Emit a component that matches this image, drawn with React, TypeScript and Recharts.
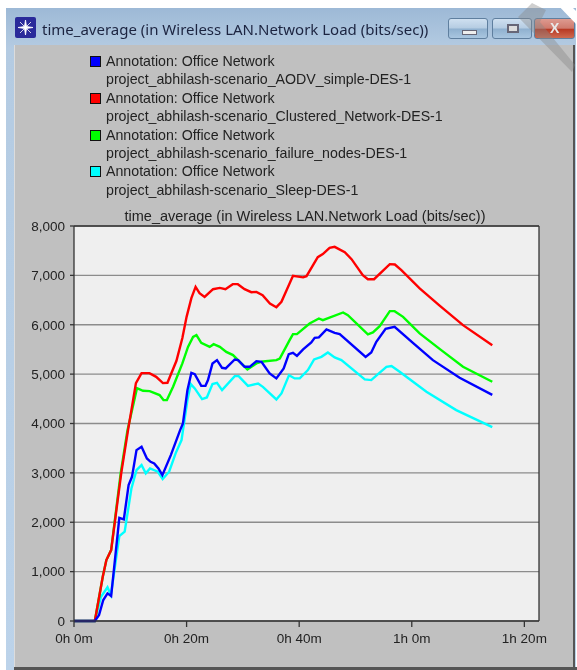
import React from "react";
import { LineChart, Line, XAxis, YAxis, CartesianGrid, ReferenceLine, Legend } from "recharts";

const chartTitle = "time_average (in Wireless LAN.Network Load (bits/sec))";
const legendHeading = "Annotation: Office Network";

const minuteTicks = [0, 20, 40, 60, 80];
const minuteLabels = ["0h 0m", "0h 20m", "0h 40m", "1h 0m", "1h 20m"];
const loadTicks = [0, 1000, 2000, 3000, 4000, 5000, 6000, 7000, 8000];
const xMax = 82.6;
const yMax = 8000;

const startMinutes = [0, 3.7];
const startLoad = [0, 0];

const aodvMinutes = [...startMinutes, 4.45, 5.2, 5.95, 6.6, 8.05, 8.85, 9.7, 10.3, 11.1, 12, 12.95, 13.6, 14.25, 15, 15.7, 17.2, 18.85, 19.35, 20.15, 20.85, 21.45, 22.6, 23.35, 23.8, 24.6, 25.4, 26.3, 26.95, 28.55, 29.15, 30.3, 31.2, 32.4, 33.3, 34.75, 35.95, 37.25, 38.15, 38.9, 39.6, 40.7, 42.15, 42.75, 43.5, 44.85, 46.3, 47.2, 51.8, 52.8, 53.7, 55.35, 56.95, 60.2, 63.75, 68.5, 74.3];
const aodvLoad = [...startLoad, 120, 425, 560, 506, 2090, 2058, 2753, 2920, 3461, 3528, 3293, 3225, 3192, 3090, 2955, 3360, 3866, 4002, 4676, 5026, 5000, 4763, 4763, 4879, 5217, 5283, 5128, 5115, 5297, 5283, 5148, 5148, 5263, 5250, 5014, 4913, 5115, 5405, 5431, 5370, 5500, 5642, 5735, 5743, 5905, 5836, 5810, 5350, 5439, 5654, 5917, 5957, 5634, 5283, 4925, 4580];

const clusteredMinutes = [...startMinutes, 5.1, 5.75, 6.6, 8.4, 9.6, 11, 12, 13.4, 14.6, 15.8, 16.6, 18.2, 19.25, 20, 20.85, 21.6, 22.3, 23.2, 24.7, 25.9, 26.9, 28.2, 29.1, 30.3, 31.5, 32.4, 33.5, 34.8, 35.95, 36.85, 38.9, 40.7, 41.3, 43.3, 44.2, 45.4, 46.3, 48.1, 49.3, 51.3, 52.2, 53.3, 56.1, 57, 58.15, 61.4, 65, 69.1, 74.3];
const clusteredLoad = [...startLoad, 890, 1235, 1437, 3000, 3866, 4818, 5020, 5020, 4945, 4818, 4824, 5270, 5730, 6160, 6540, 6767, 6640, 6565, 6720, 6747, 6720, 6822, 6822, 6720, 6660, 6666, 6600, 6430, 6356, 6464, 6990, 6960, 6983, 7368, 7430, 7557, 7578, 7470, 7328, 7004, 6923, 6923, 7227, 7220, 7105, 6735, 6383, 5992, 5587];

const failureMinutes = [...startMinutes, 5.1, 5.75, 6.6, 8.3, 9.5, 11.2, 12.25, 13.45, 15.2, 15.9, 16.5, 17.6, 19.25, 20.25, 21.15, 21.75, 22.6, 24.1, 24.8, 25.9, 27.05, 28.25, 29.45, 30.8, 32.4, 33.55, 35.95, 36.55, 38.3, 38.9, 39.6, 41.85, 43.5, 44.2, 47.8, 48.65, 52.2, 53.1, 54.3, 56.1, 56.95, 58.45, 61.4, 65, 69.1, 74.3];
const failureLoad = [...startLoad, 890, 1235, 1437, 3000, 3866, 4717, 4662, 4656, 4575, 4474, 4474, 4743, 5217, 5552, 5755, 5789, 5634, 5552, 5607, 5552, 5450, 5385, 5250, 5095, 5217, 5257, 5283, 5317, 5688, 5810, 5810, 6026, 6127, 6093, 6249, 6194, 5804, 5844, 5972, 6275, 6275, 6160, 5824, 5506, 5148, 4845];

const sleepMinutes = [...startMinutes, 4.8, 5.95, 6.55, 8.05, 9, 10.2, 11.1, 12, 12.75, 13.5, 14.9, 15.75, 16.9, 18.05, 19.1, 20.15, 20.75, 21.45, 22.75, 23.6, 24.6, 25.4, 26.3, 28.55, 29.25, 30.9, 32.7, 33.55, 35.95, 36.85, 38.2, 39.2, 40.1, 41.55, 42.65, 43.95, 45.1, 46.3, 47.5, 51.65, 52.8, 54, 55.5, 56.4, 57.85, 62.6, 67.9, 74.3];
const sleepLoad = [...startLoad, 492, 682, 526, 1720, 1808, 2686, 3057, 3158, 2990, 3090, 3023, 2875, 3023, 3395, 3664, 4474, 4798, 4710, 4494, 4528, 4798, 4824, 4676, 4960, 4960, 4763, 4811, 4743, 4488, 4609, 4980, 4913, 4913, 5081, 5297, 5350, 5439, 5338, 5283, 4893, 4879, 5000, 5148, 5162, 5047, 4642, 4271, 3927];

const toRows = (minutes: number[], load: number[]) => minutes.map((minute, i) => ({ minute, load: load[i] }));

const legendNames = [
  "project_abhilash-scenario_AODV_simple-DES-1",
  "project_abhilash-scenario_Clustered_Network-DES-1",
  "project_abhilash-scenario_failure_nodes-DES-1",
  "project_abhilash-scenario_Sleep-DES-1",
];
const legendColors = ["#0000ff", "#ff0000", "#00ff00", "#00ffff"];

const FONT = "'Liberation Sans', Arial, sans-serif";

function ChartLegend() {
  return (
    <div style={{ position: "absolute", left: 90, top: 52, fontFamily: FONT, fontSize: 14.2, color: "#222" }}>
      {legendNames.map((name, i) => (
        <div key={name}>
          <div style={{ height: 18.4, lineHeight: "18.4px", whiteSpace: "nowrap" }}>
            <span style={{ position: "absolute", left: 0, marginTop: 4, width: 9, height: 9, background: legendColors[i], border: "1px solid #111" }} />
            <span style={{ marginLeft: 16 }}>{legendHeading}</span>
          </div>
          <div style={{ height: 18.4, lineHeight: "18.4px", marginLeft: 16, whiteSpace: "nowrap" }}>{name}</div>
        </div>
      ))}
    </div>
  );
}

function WindowChrome() {
  const btn = (left: number, bg: string, w = 40): React.CSSProperties => ({
    position: "absolute", left, top: 18, width: w, height: 21, borderRadius: 3,
    border: "1px solid #5f7f9f", background: bg, boxSizing: "border-box",
  });
  const blueBtn = "linear-gradient(#cfe0f0 0%, #b5cce2 48%, #8fb0cf 52%, #a9c6e0 100%)";
  return (
    <>
      <div style={{ position: "absolute", left: 6, top: 8, width: 570, height: 662, background: "linear-gradient(#9db9d6 0px, #b4cbe2 40px, #bcd3ea 100%)" }} />
      <div style={{ position: "absolute", left: 14, top: 45, width: 561, height: 623, background: "#c0c0c0", borderLeft: "1px solid #dcdcdc", borderRight: "2px solid #555", boxSizing: "border-box" }} />
      <div style={{ position: "absolute", left: 14, top: 667, width: 563, height: 3, background: "#555" }} />
      <svg style={{ position: "absolute", left: 15, top: 17 }} width={21} height={21}>
        <rect width={21} height={21} rx={2} fill="#2a2a9a" />
        <path d="M10.5 3 L11.5 9.5 L18 10.5 L11.5 11.5 L10.5 18 L9.5 11.5 L3 10.5 L9.5 9.5 Z M5 5 L16 16 M16 5 L5 16" fill="#fff" stroke="#fff" strokeWidth={0.8} />
      </svg>
      <div style={{ position: "absolute", left: 42, top: 19, fontFamily: "'Noto Sans', sans-serif", fontSize: 15, color: "#1c2440", whiteSpace: "nowrap" }}>{chartTitle}</div>
      <div style={btn(448, blueBtn)}><div style={{ position: "absolute", left: 13, top: 11, width: 13, height: 3, background: "#eee", border: "1px solid #667" }} /></div>
      <div style={btn(492, blueBtn)}><div style={{ position: "absolute", left: 14, top: 5, width: 12, height: 9, border: "2px solid #667", background: "#ddd", boxSizing: "border-box" }} /></div>
      <div style={btn(534, "linear-gradient(#dd9a90 0%, #cf7b6e 48%, #b83a25 55%, #cf6a50 100%)", 41)}>
        <div style={{ position: "absolute", left: 15, top: 1, color: "#e8e8e8", fontFamily: FONT, fontWeight: 700, fontSize: 14 }}>X</div>
      </div>
      <svg style={{ position: "absolute", left: 500, top: 0 }} width={77} height={80}>
        <polygon points="32,3 18,17 72,72 75,65 40,22 46,10" fill="#888" fillOpacity={0.4} />
        <polygon points="53,0 65,0 77,12 77,25" fill="#fff" />
      </svg>
    </>
  );
}

export default function App() {
  return (
    <div style={{ position: "absolute", left: 0, top: 0, width: 577, height: 670, background: "#fff", overflow: "hidden", filter: "blur(0.5px)" }}>
      <WindowChrome />
      <div style={{ position: "absolute", left: 0, top: 208, width: 610, textAlign: "center", fontFamily: FONT, fontSize: 14.5, color: "#222", whiteSpace: "nowrap" }}>{chartTitle}</div>
      <LineChart
        width={577}
        height={670}
        style={{ position: "absolute", left: 0, top: 0 }}
        margin={{ left: 14, right: 38, top: 226, bottom: 19 }}
      >
        <CartesianGrid vertical={false} horizontal stroke="#8c8c8c" strokeWidth={1.3} fill="#efefef" fillOpacity={1} />
        <XAxis
          type="number"
          dataKey="minute"
          domain={[0, xMax]}
          ticks={minuteTicks}
          tickFormatter={(v: number) => minuteLabels[minuteTicks.indexOf(v)]}
          height={30}
          tickSize={6}
          tickMargin={6}
          interval={0}
          allowDuplicatedCategory={false}
          stroke="#333"
          strokeWidth={1.3}
          tick={{ fontFamily: FONT, fontSize: 13.5, fill: "#222" }}
        />
        <YAxis
          type="number"
          dataKey="load"
          domain={[0, yMax]}
          ticks={loadTicks}
          tickFormatter={(v: number) => v.toLocaleString("en-US")}
          width={60}
          tickSize={4}
          tickMargin={5}
          interval={0}
          stroke="#333"
          strokeWidth={1.3}
          tick={{ fontFamily: FONT, fontSize: 13.5, fill: "#222" }}
        />
        <ReferenceLine x={xMax} stroke="#333" strokeWidth={1.3} />
        <ReferenceLine y={yMax} stroke="#333" strokeWidth={1.3} />
        <Line data={toRows(sleepMinutes, sleepLoad)} dataKey="load" name="sleep" stroke={legendColors[3]} strokeWidth={2.4} dot={false} type="linear" isAnimationActive={false} />
        <Line data={toRows(failureMinutes, failureLoad)} dataKey="load" name="failure" stroke={legendColors[2]} strokeWidth={2.4} dot={false} type="linear" isAnimationActive={false} />
        <Line data={toRows(clusteredMinutes, clusteredLoad)} dataKey="load" name="clustered" stroke={legendColors[1]} strokeWidth={2.4} dot={false} type="linear" isAnimationActive={false} />
        <Line data={toRows(aodvMinutes, aodvLoad)} dataKey="load" name="aodv" stroke={legendColors[0]} strokeWidth={2.4} dot={false} type="linear" isAnimationActive={false} />
        <Legend content={() => <ChartLegend />} wrapperStyle={{ position: "absolute", left: 0, top: 0, width: 0, height: 0 }} />
      </LineChart>
    </div>
  );
}
